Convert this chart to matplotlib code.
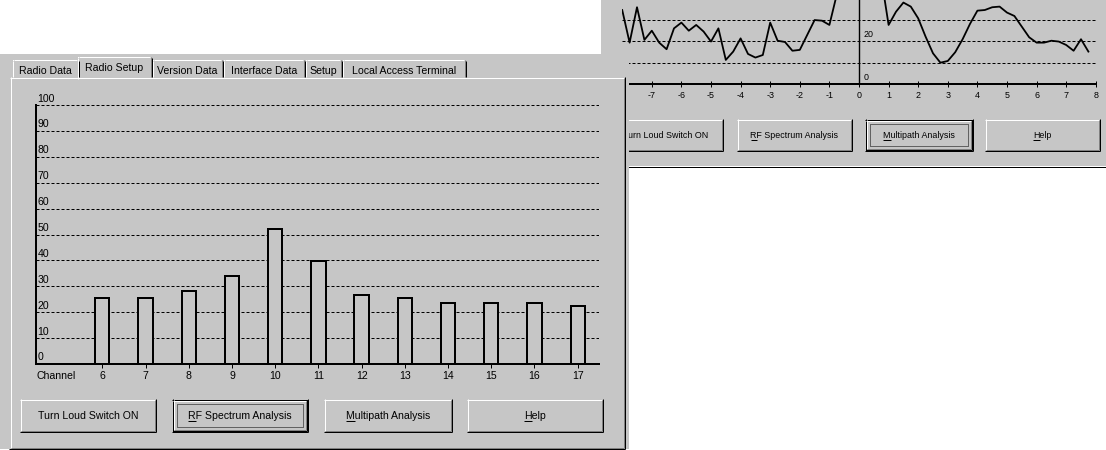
import matplotlib
matplotlib.use("Agg")
import matplotlib.pyplot as plt
import matplotlib.transforms as mtransforms
from matplotlib.patches import Rectangle

W, H = 1106, 450
FONT = ["Liberation Sans", "DejaVu Sans"]
FS = 7.6          # front window text size (pt)
FS_R = 6.4        # rear window text size (pt)
GRAY = "#c6c6c6"
DARK = "#808080"
PX = 72.0 / 100.0  # one pixel in points

plt.rcParams["font.family"] = FONT
plt.rcParams["axes.unicode_minus"] = False

# ---------------- data: Radio Setup bar chart ----------------
channels = [6, 7, 8, 9, 10, 11, 12, 13, 14, 15, 16, 17]
signal_levels = [25.4, 25.4, 28.2, 34.0, 52.2, 39.8, 26.5, 25.5, 23.4, 23.4, 23.4, 22.3]
level_ticks = [0, 10, 20, 30, 40, 50, 60, 70, 80, 90, 100]

# ---------------- data: Multipath line chart (rear window) ----------------
path_offsets = [-8.0, -7.75, -7.5, -7.25, -7.0, -6.75, -6.5, -6.25,
                -6.0, -5.75, -5.5, -5.25, -5.0, -4.75, -4.5, -4.25,
                -4.0, -3.75, -3.5, -3.25, -3.0, -2.75, -2.5, -2.25,
                -2.0, -1.75, -1.5, -1.25, -1.0, -0.75, -0.5, -0.25,
                0.0, 0.25, 0.5, 0.75, 1.0, 1.25, 1.5, 1.75,
                2.0, 2.25, 2.5, 2.75, 3.0, 3.25, 3.5, 3.75,
                4.0, 4.25, 4.5, 4.75, 5.0, 5.25, 5.5, 5.75,
                6.0, 6.25, 6.5, 6.75, 7.0, 7.25, 7.5, 7.75]
path_response = [34.7, 19.4, 36.0, 20.7, 25.0, 19.4, 16.3, 26.1,
                 28.8, 25.0, 27.7, 24.6, 19.9, 26.1, 11.3, 15.2,
                 21.4, 14.1, 12.4, 13.6, 28.8, 20.3, 19.7, 15.6,
                 16.0, 23.0, 30.0, 29.7, 27.7, 42.0, 52.0, 60.0,
                 64.0, 62.0, 56.0, 50.0, 27.7, 33.9, 38.2, 36.3,
                 30.8, 22.2, 14.4, 10.0, 10.8, 14.9, 21.0, 28.2,
                 34.4, 34.7, 36.0, 36.3, 33.5, 31.9, 26.9, 21.9,
                 19.4, 19.4, 20.3, 19.9, 18.3, 15.6, 21.0, 15.2]
offset_ticks = [-8, -7, -6, -5, -4, -3, -2, -1, 0, 1, 2, 3, 4, 5, 6, 7, 8]
response_grid = [10, 20, 30]
response_labels = [0, 20]

tab_labels = ["Radio Data", "Radio Setup", "Version Data", "Interface Data",
              "Setup", "Local Access Terminal"]
button_labels = ["Turn Loud Switch ON", "RF Spectrum Analysis",
                 "Multipath Analysis", "Help"]
button_mnemonic = [None, 0, 0, 0]

# ---------------- layout (pixels) ----------------
tab_boxes = [(12, 79), (77, 152), (152, 223), (223, 305), (305, 342), (342, 466)]
selected_tab = 1
left_buttons = [(20, 399, 156, 432), (172, 399, 308, 432),
                (324, 399, 452, 432), (467, 399, 603, 432)]
left_focus = 1
right_buttons = [(608, 119, 723, 151), (737, 119, 852, 151),
                 (865, 119, 973, 151), (985, 119, 1100, 151)]
right_focus = 2

fig = plt.figure(figsize=(W / 100, H / 100), dpi=100, facecolor="white")


def pixel_axes(z):
    ax = fig.add_axes([0, 0, 1, 1], zorder=z)
    ax.set_xlim(0, W)
    ax.set_ylim(H, 0)
    ax.axis("off")
    return ax


def hl(ax, x0, x1, y, c, ls="-"):
    ax.plot([x0, x1], [y + 0.5, y + 0.5], color=c, lw=PX, ls=ls,
            solid_capstyle="butt")


def vl(ax, x, y0, y1, c):
    ax.plot([x + 0.5, x + 0.5], [y0, y1], color=c, lw=PX, solid_capstyle="butt")


def fill(ax, x0, y0, x1, y1, c):
    ax.add_patch(Rectangle((x0, y0), x1 - x0, y1 - y0, facecolor=c,
                           edgecolor="none", lw=0))


underlines = []


def label(ax, xc, yb, s, fs, mn=None):
    t = ax.text(xc, yb, s, ha="center", va="baseline", fontsize=fs,
                color="black")
    if mn is not None:
        underlines.append((ax, t, s, mn, yb))
    return t


def button(ax, box, s, fs, focused=False, mn=None):
    x0, y0, x1, y1 = box
    if focused:
        hl(ax, x0, x1, y0, "black")
        hl(ax, x0, x1, y1 - 1, "black")
        vl(ax, x0, y0, y1, "black")
        vl(ax, x1 - 1, y0, y1, "black")
        x0 += 1; y0 += 1; x1 -= 1; y1 -= 1
    hl(ax, x0, x1 - 1, y0, "white")
    vl(ax, x0, y0, y1 - 1, "white")
    hl(ax, x0, x1, y1 - 1, "black")
    vl(ax, x1 - 1, y0, y1, "black")
    hl(ax, x0 + 1, x1 - 1, y1 - 2, DARK)
    vl(ax, x1 - 2, y0 + 1, y1 - 1, DARK)
    yb = (y0 + y1) / 2 + 0.358 * fs / PX
    label(ax, (x0 + x1) / 2, yb, s, fs, mn)
    if focused:
        ax.add_patch(Rectangle((x0 + 3.5, y0 + 3.5), (x1 - x0) - 8, (y1 - y0) - 8,
                               fill=False, ec="black", lw=PX, ls=(0, (1, 1))))


def tab(ax, x0, x1, top, s, selected):
    bottom = 79 if selected else 77
    fill(ax, x0, top, x1, bottom, GRAY)
    hl(ax, x0 + 2, x1 - 2, top, "white")
    vl(ax, x0, top + 2, bottom, "white")
    fill(ax, x0 + 1, top + 1, x0 + 2, top + 2, "white")
    vl(ax, x1 - 1, top + 2, 77, "black")
    vl(ax, x1 - 2, top + 1, 77, DARK)
    yb = (67.5 if selected else 70.7) + 0.358 * FS / PX
    label(ax, (x0 + x1) / 2, yb, s, FS)


# ================= rear window (Multipath) =================
bg = pixel_axes(0)
fill(bg, 601, 0, W, 166, GRAY)
hl(bg, 601, W, 166, "black")
for i, (box, s) in enumerate(zip(right_buttons, button_labels)):
    button(bg, box, s, FS_R, focused=(i == right_focus), mn=button_mnemonic[i])

ax2 = fig.add_axes([622.2 / W, (H - 84) / H, (1095.8 - 622.2) / W, 84 / H], zorder=1)
ax2.patch.set_visible(False)
ax2.set_xlim(-8, 8)
ax2.set_ylim(0, 39.4)
ax2.set_axisbelow(True)
ax2.plot(path_offsets, path_response, color="black", lw=1.8 * PX)
ax2.axvline(0, color="black", lw=1.4 * PX)
ax2.set_yticks(response_grid)
ax2.grid(axis="y", color="black", lw=PX, ls=(0, (3, 2)))
ax2.tick_params(axis="y", length=0, labelleft=False)
ax2.set_xticks(offset_ticks, [str(v) for v in offset_ticks])
ax2.tick_params(axis="x", direction="inout", length=6.5 * PX, width=PX,
                pad=3, labelsize=FS_R, colors="black")
for sp in ["left", "top", "right"]:
    ax2.spines[sp].set_visible(False)
ax2.spines["bottom"].set_linewidth(2 * PX)
tr2 = mtransforms.offset_copy(ax2.transData, fig=fig, x=5, y=4.5, units="dots")
for v in response_labels:
    ax2.text(0, v, str(v), transform=tr2, ha="left", va="baseline",
             fontsize=FS_R, color="black")

# ================= front window (Radio Setup) =================
fg = pixel_axes(2)
fill(fg, 0, 54, 629, 449, GRAY)
for i, ((x0, x1), s) in enumerate(zip(tab_boxes, tab_labels)):
    if i != selected_tab:
        tab(fg, x0, x1, 59, s, False)
# panel frame
hl(fg, 10, 624, 77, "white")
vl(fg, 10, 77, 448, "white")
vl(fg, 624, 77, 449, "black")
vl(fg, 623, 78, 448, DARK)
hl(fg, 9, 625, 448, "black")
hl(fg, 11, 624, 447, DARK)
x0, x1 = tab_boxes[selected_tab]
tab(fg, x0, x1, 56, tab_labels[selected_tab], True)

for i, (box, s) in enumerate(zip(left_buttons, button_labels)):
    button(fg, box, s, FS, focused=(i == left_focus), mn=button_mnemonic[i])

ax1 = fig.add_axes([36 / W, (H - 364) / H, (599 - 36) / W, (364 - 105) / H], zorder=3)
ax1.patch.set_visible(False)
ax1.set_xlim(6 - 66.3 / 43.2, 17 + 21.3 / 43.2)
ax1.set_ylim(0, 100)
ax1.set_axisbelow(True)
ax1.bar(channels, signal_levels, width=0.33, facecolor=GRAY, edgecolor="black",
        linewidth=2 * PX, zorder=2)
ax1.set_yticks(level_ticks)
ax1.grid(axis="y", color="black", lw=PX, ls=(0, (3, 2)))
ax1.tick_params(axis="y", length=0, labelleft=False)
ax1.set_xticks(channels, [str(c) for c in channels])
ax1.tick_params(axis="x", direction="inout", length=7 * PX, width=PX,
                pad=2.5, labelsize=FS, colors="black")
for sp in ["top", "right"]:
    ax1.spines[sp].set_visible(False)
for sp in ["left", "bottom"]:
    ax1.spines[sp].set_linewidth(2 * PX)
tr1 = mtransforms.offset_copy(
    mtransforms.blended_transform_factory(ax1.transAxes, ax1.transData),
    fig=fig, x=1.5, y=3.5, units="dots")
for v in level_ticks:
    ax1.text(0, v, str(v), transform=tr1, ha="left", va="baseline",
             fontsize=FS, color="black")
trc = mtransforms.offset_copy(ax1.transAxes, fig=fig, x=0.5, y=-14.6, units="dots")
ax1.text(0, 0, "Channel", transform=trc, ha="left", va="baseline",
         fontsize=FS, color="black")

# ---------------- mnemonic underlines ----------------
fig.canvas.draw()
renderer = fig.canvas.get_renderer()
for ax, t, s, i, yb in underlines:
    bb = t.get_window_extent(renderer)
    prop = t.get_fontproperties()
    w_pre = renderer.get_text_width_height_descent(s[:i], prop, ismath=False)[0] if i > 0 else 0.0
    w_chr = renderer.get_text_width_height_descent(s[:i + 1], prop, ismath=False)[0]
    xs = bb.x0 + w_pre
    xe = bb.x0 + w_chr
    hl(ax, xs, xe, int(yb) + 1, "black")

fig.savefig("out.png", dpi=100, facecolor="white")
